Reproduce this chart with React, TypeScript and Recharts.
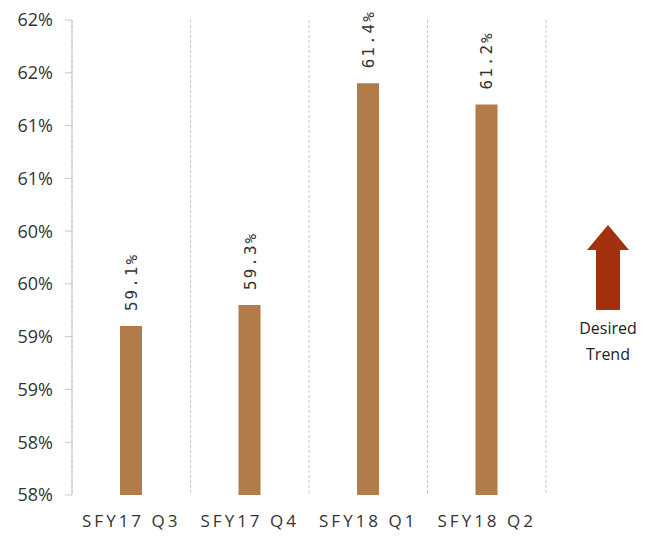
import { Bar, BarChart, CartesianGrid, LabelList, XAxis, YAxis } from "recharts"

const quarters = ["SFY17 Q3", "SFY17 Q4", "SFY18 Q1", "SFY18 Q2"]
const rates = [59.1, 59.3, 61.4, 61.2]
const yTicks = [57.5, 58, 58.5, 59, 59.5, 60, 60.5, 61, 61.5, 62]
const boundaryTicks = [0, 1, 2, 3, 4]

const data = quarters.map((q, i) => ({ q, rate: rates[i] }))

const BAR = "#B27B4A"
const GRID = "#c8c8c8"

function BarLabel(props: any) {
  const { x, y, width, value } = props
  const cx = x + width / 2 + 6
  const ty = y - 15
  return (
    <text
      x={cx}
      y={ty}
      transform={`rotate(-90, ${cx}, ${ty})`}
      textAnchor="start"
      fontFamily="'DejaVu Sans Mono', monospace"
      fontSize={16}
      letterSpacing={2}
      fill="#333"
    >
      {`${value.toFixed(1)}%`}
    </text>
  )
}

export default function App() {
  return (
    <div style={{ position: "relative", width: 655, height: 536, background: "#fff" }}>
      <style>{"body{margin:0}"}</style>
      <BarChart width={655} height={536} data={data} margin={{ top: 20, right: 109, left: 0, bottom: 0 }}>
        <CartesianGrid
          horizontal={false}
          stroke={GRID}
          strokeDasharray="3 2"
          verticalCoordinatesGenerator={({ offset }: any) =>
            boundaryTicks.map((t) => offset.left + (t * offset.width) / quarters.length)
          }
        />
        <XAxis
          xAxisId="grid"
          type="number"
          domain={[0, quarters.length]}
          allowDataOverflow
          ticks={boundaryTicks}
          height={0}
          tick={() => <g />}
          tickSize={8}
          tickLine={{ stroke: GRID }}
          axisLine={{ stroke: GRID, strokeDasharray: "3 2" }}
        />
        <XAxis
          dataKey="q"
          height={41}
          tickLine={false}
          axisLine={false}
          tickMargin={14}
          tick={{ fill: "#333", fontSize: 17, fontFamily: "'Open Sans', sans-serif", letterSpacing: 3 }}
        />
        <YAxis
          width={72}
          type="number"
          domain={[57.5, 62]}
          ticks={yTicks}
          tickFormatter={(v: number) => `${Math.round(v)}%`}
          tickSize={7}
          tickMargin={12}
          tickLine={{ stroke: GRID }}
          axisLine={{ stroke: GRID }}
          tick={{ fill: "#333", fontSize: 18, fontFamily: "'Open Sans', sans-serif" }}
        />
        <Bar dataKey="rate" fill={BAR} barSize={22} isAnimationActive={false}>
          <LabelList dataKey="rate" content={BarLabel} />
        </Bar>
      </BarChart>
      <div style={{ position: "absolute", left: 570, top: 222, width: 76, textAlign: "center" }}>
        <svg width={76} height={90} style={{ display: "block" }}>
          <polygon points="17,28 38,3 59,28 50,28 50,88 26,88 26,28" fill="#A3310F" />
        </svg>
        <div
          style={{
            fontFamily: "'Open Sans', sans-serif",
            fontSize: 16,
            lineHeight: "26px",
            color: "#222",
            marginTop: 3,
          }}
        >
          Desired
          <br />
          Trend
        </div>
      </div>
    </div>
  )
}
